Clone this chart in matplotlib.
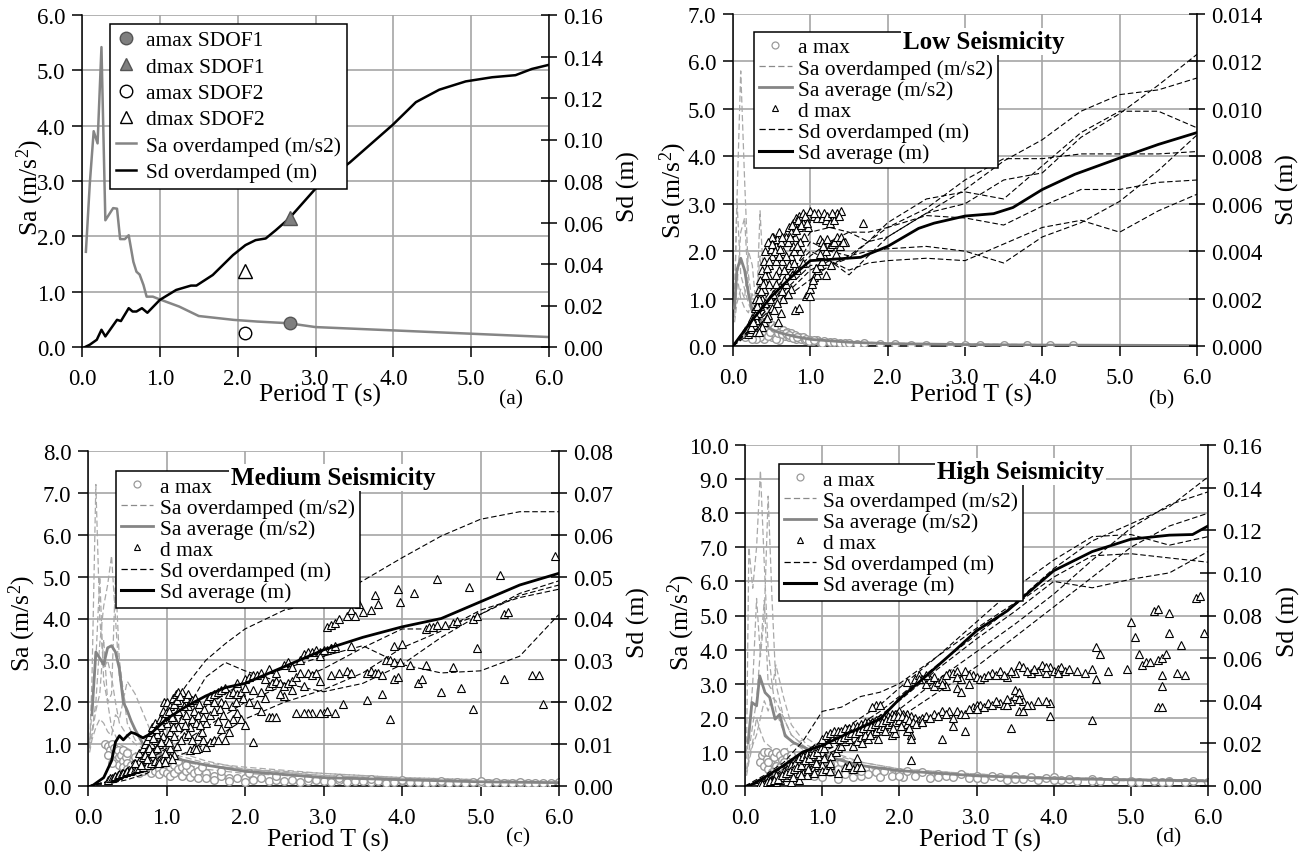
import numpy as np
import matplotlib
matplotlib.use("Agg")
import matplotlib.pyplot as plt
from matplotlib.lines import Line2D
from matplotlib.ticker import FormatStrFormatter

plt.rcParams["font.family"] = ["Liberation Serif", "DejaVu Serif"]
plt.rcParams["mathtext.fontset"] = "custom"
plt.rcParams["mathtext.rm"] = "Liberation Serif"
plt.rcParams["mathtext.it"] = "Liberation Serif:italic"

W, H = 1310, 854

# ---------------------------------------------------------------- panel (a)
T_sa_a = [0.05, 0.1, 0.15, 0.2, 0.25, 0.3, 0.35, 0.4, 0.45, 0.49, 0.55, 0.6, 0.66, 0.7,
          0.74, 0.79, 0.83, 0.91, 1.0, 1.25, 1.5, 1.95, 2.25, 2.65, 3.0, 4.0, 5.0, 6.0]
sa_od_a = [1.72, 2.95, 3.9, 3.68, 5.42, 2.29, 2.4, 2.51, 2.5, 1.95, 1.95, 2.02, 1.54, 1.36,
           1.31, 1.12, 0.91, 0.91, 0.86, 0.73, 0.56, 0.49, 0.46, 0.43, 0.36, 0.3, 0.24, 0.18]
T_sd_a = [0.04, 0.1, 0.19, 0.25, 0.3, 0.36, 0.45, 0.5, 0.6, 0.65, 0.7, 0.77, 0.84, 1.0, 1.21,
          1.4, 1.47, 1.68, 1.94, 2.1, 2.23, 2.36, 2.49, 2.66, 3.0, 3.44, 3.99, 4.29, 4.59,
          4.93, 5.27, 5.57, 5.78, 6.0]
sd_od_a_mm = [0, 1.1, 3.5, 8.3, 5.1, 8.3, 13.1, 12.5, 18.7, 17.1, 17.1, 18.7, 16.5, 22.7, 27.5,
              29.6, 29.6, 34.7, 44.3, 49.1, 51.5, 52.3, 56.3, 61.9, 76.3, 88.9, 107, 118, 124,
              128, 130, 131, 134, 136]
amax_sdof1 = (2.67, 0.43)
dmax_sdof1 = (2.67, 0.062)
amax_sdof2 = (2.1, 0.25)
dmax_sdof2 = (2.1, 0.0365)

# ---------------------------------------------------------------- shared period grids
T_od = [0.0, 0.25, 0.5, 0.75, 1.0, 1.25, 1.5, 1.75, 2.0, 2.5, 3.0, 3.5, 4.0, 4.5, 5.0, 5.5, 6.0]
T_sa = [0.02, 0.05, 0.1, 0.15, 0.2, 0.25, 0.3, 0.35, 0.4, 0.5, 0.6, 0.8, 1.0, 1.5, 2.0,
        3.0, 4.0, 5.0, 6.0]

# ---------------------------------------------------------------- panel (b) low seismicity
sa_od_b = [
    [1.0, 3.0, 5.8, 3.5, 1.5, 0.9, 0.8, 0.7, 0.5, 0.4, 0.3, 0.2, 0.15, 0.08, 0.05, 0.03, 0.02, 0.015, 0.01],
    [0.8, 3.1, 1.5, 1.2, 0.9, 0.7, 0.6, 2.85, 1.2, 0.5, 0.35, 0.25, 0.18, 0.1, 0.06, 0.04, 0.03, 0.02, 0.015],
    [0.6, 1.2, 2.4, 2.7, 1.2, 0.6, 0.5, 0.45, 0.4, 0.3, 0.25, 0.18, 0.12, 0.07, 0.05, 0.03, 0.02, 0.015, 0.01],
    [0.5, 0.9, 1.2, 1.0, 2.0, 1.7, 0.8, 0.6, 0.5, 0.4, 0.3, 0.2, 0.13, 0.07, 0.04, 0.03, 0.02, 0.01, 0.01],
    [0.7, 1.5, 1.0, 0.8, 0.7, 1.1, 0.9, 1.9, 0.8, 0.35, 0.3, 0.2, 0.12, 0.07, 0.04, 0.03, 0.02, 0.01, 0.01],
]
sa_avg_b = [0.8, 1.6, 1.85, 1.6, 1.1, 0.75, 0.6, 0.55, 0.45, 0.35, 0.28, 0.2, 0.14, 0.08, 0.05,
            0.03, 0.02, 0.015, 0.01]
sd_od_b_mm = [
    [0, 1.0, 2.2, 3.2, 4.0, 3.6, 3.0, 3.8, 4.6, 5.6, 6.0, 7.0, 7.3, 8.8, 9.8, 11.0, 12.3],
    [0, 1.2, 2.4, 3.6, 4.8, 5.0, 4.8, 4.4, 4.6, 5.6, 6.6, 7.8, 8.7, 9.9, 10.6, 10.8, 11.3],
    [0, 0.8, 1.8, 3.0, 4.4, 4.0, 3.8, 4.4, 5.2, 6.2, 6.5, 6.2, 7.6, 9.0, 9.9, 9.9, 9.2],
    [0, 1.0, 2.0, 3.0, 3.8, 4.4, 4.8, 4.8, 5.0, 5.8, 7.0, 7.9, 7.9, 8.1, 8.1, 8.1, 8.2],
    [0, 0.6, 1.4, 2.2, 2.8, 3.4, 3.8, 4.0, 4.1, 4.2, 4.0, 3.5, 4.6, 5.2, 6.1, 7.4, 8.9],
    [0, 0.8, 1.6, 2.4, 3.2, 3.6, 3.2, 3.5, 3.6, 3.7, 3.6, 4.3, 5.0, 5.3, 4.8, 5.7, 6.4],
    [0, 0.8, 1.8, 2.6, 3.4, 3.4, 3.7, 4.4, 5.0, 5.5, 5.4, 5.1, 5.9, 6.6, 6.6, 6.9, 7.0],
]
T_sd_avg_b = [0, 0.25, 0.5, 0.75, 1.0, 1.3, 1.65, 2.0, 2.4, 2.6, 3.0, 3.37, 3.62, 4.0, 4.42,
              4.96, 5.5, 6.0]
sd_avg_b_mm = [0, 1.1, 2.1, 2.9, 3.6, 3.66, 3.74, 4.2, 4.96, 5.18, 5.48, 5.58, 5.84, 6.6,
               7.24, 7.88, 8.5, 9.0]
amax_b = [(0.15, 0.2), (0.18, 0.28), (0.2, 0.35), (0.22, 0.25), (0.25, 0.42), (0.27, 0.3),
          (0.3, 0.5), (0.32, 0.22), (0.35, 0.45), (0.37, 0.35), (0.4, 0.5), (0.42, 0.28),
          (0.45, 0.52), (0.47, 0.4), (0.5, 0.45), (0.52, 0.3), (0.55, 0.42), (0.57, 0.2),
          (0.6, 0.38), (0.62, 0.3), (0.65, 0.33), (0.67, 0.22), (0.7, 0.3), (0.72, 0.18),
          (0.75, 0.27), (0.77, 0.2), (0.8, 0.24), (0.82, 0.15), (0.85, 0.2), (0.88, 0.14),
          (0.9, 0.18), (0.93, 0.12), (0.95, 0.15), (1.0, 0.13), (1.03, 0.1), (1.08, 0.12),
          (1.12, 0.09), (1.18, 0.1), (1.25, 0.08), (1.3, 0.09), (1.38, 0.07), (1.45, 0.07),
          (1.5, 0.06), (1.6, 0.05), (1.7, 0.06), (1.9, 0.04), (2.1, 0.04), (2.3, 0.03),
          (2.5, 0.03), (2.8, 0.03), (3.0, 0.03), (3.2, 0.02), (3.5, 0.02), (3.8, 0.02),
          (4.1, 0.02), (4.4, 0.02), (0.4, 0.15), (0.5, 0.18), (0.6, 0.12), (0.35, 0.2),
          (0.45, 0.22), (0.55, 0.15), (0.3, 0.15), (0.25, 0.15), (0.38, 0.42), (0.43, 0.38),
          (0.48, 0.3), (0.53, 0.37), (0.58, 0.28), (0.63, 0.25), (0.68, 0.28), (0.73, 0.24),
          (0.78, 0.17), (0.83, 0.19), (0.98, 0.1), (1.05, 0.13), (1.15, 0.07)]
dmax_b_mm = [(0.2, 0.5), (0.22, 0.6), (0.25, 0.7), (0.27, 0.9), (0.3, 1.1), (0.3, 0.6),
             (0.32, 1.4), (0.35, 1.7), (0.35, 0.8), (0.37, 2.0), (0.4, 2.4), (0.4, 1.0),
             (0.42, 2.7), (0.45, 3.0), (0.45, 1.3), (0.47, 3.4), (0.48, 4.4), (0.5, 3.8),
             (0.5, 1.6), (0.52, 4.6), (0.52, 2.2), (0.55, 4.2), (0.55, 2.6), (0.57, 4.5),
             (0.58, 1.0), (0.6, 3.2), (0.6, 4.8), (0.62, 1.4), (0.63, 3.6), (0.65, 4.0),
             (0.65, 2.0), (0.67, 4.4), (0.68, 2.6), (0.7, 4.8), (0.7, 3.0), (0.72, 3.4),
             (0.73, 5.0), (0.75, 3.8), (0.75, 2.4), (0.77, 4.2), (0.78, 5.2), (0.8, 4.6),
             (0.8, 1.5), (0.82, 5.4), (0.83, 3.2), (0.85, 5.5), (0.85, 1.6), (0.87, 4.0),
             (0.9, 5.6), (0.9, 3.5), (0.92, 4.6), (0.95, 5.4), (0.97, 5.0), (0.5, 4.6),
             (0.45, 4.4), (0.4, 3.6), (0.35, 2.8), (0.3, 2.0), (0.25, 1.2), (0.55, 3.6),
             (0.42, 4.0), (0.38, 3.2), (0.33, 2.4), (0.28, 1.6), (0.62, 4.4), (0.68, 4.6),
             (0.75, 4.8), (0.85, 5.0), (0.9, 5.2),
             (0.23, 0.8), (0.26, 1.0), (0.29, 1.3), (0.31, 1.7), (0.34, 2.0), (0.36, 2.3),
             (0.39, 2.6), (0.41, 3.0), (0.44, 3.3), (0.46, 3.6), (0.49, 4.1), (0.51, 4.3),
             (0.54, 4.0), (0.56, 3.0), (0.59, 3.8), (0.61, 4.1), (0.64, 4.6), (0.66, 3.2),
             (0.69, 3.8), (0.71, 4.4), (0.74, 4.6), (0.76, 5.1), (0.79, 4.0), (0.81, 4.9),
             (0.84, 5.3), (0.86, 4.4), (0.88, 5.1), (0.93, 5.5), (0.96, 5.2), (0.48, 2.0),
             (0.53, 1.5), (0.57, 1.8), (0.63, 2.3), (0.66, 2.8), (0.71, 2.2), (0.76, 3.0),
             (0.79, 3.5), (0.83, 4.2), (0.44, 1.2), (0.38, 0.8), (0.33, 0.6), (0.47, 2.6),
             (0.42, 1.8),
             (0.95, 2.1), (0.97, 2.2), (1.0, 2.4), (1.02, 2.6), (1.05, 2.9), (1.08, 3.0),
             (1.1, 3.2), (1.12, 3.4), (1.15, 3.6), (1.18, 3.8), (1.2, 4.0), (1.25, 4.2),
             (1.28, 4.3), (1.3, 4.4), (1.35, 4.6), (1.4, 4.6), (1.45, 4.4), (1.12, 4.5),
             (1.15, 4.4), (1.2, 3.0), (1.0, 2.1), (1.03, 2.8), (1.07, 3.3), (1.13, 3.9),
             (1.17, 4.2), (1.22, 4.5), (1.27, 3.4), (1.33, 3.9), (1.38, 4.2), (1.42, 4.4),
             (1.0, 5.7), (1.05, 5.5), (1.08, 5.4), (1.1, 5.6), (1.15, 5.4), (1.2, 5.3),
             (1.25, 5.2), (1.3, 5.5), (1.35, 5.6), (1.4, 5.7), (1.3, 5.3), (1.68, 5.2),
             (1.05, 5.6), (1.18, 5.6), (1.22, 5.5), (1.28, 5.6), (1.37, 5.5)]

# ---------------------------------------------------------------- panel (c) medium seismicity
sa_od_c = [
    [0.9, 2.5, 7.2, 4.0, 2.8, 3.0, 2.6, 2.0, 1.5, 1.2, 1.0, 0.8, 0.7, 0.5, 0.4, 0.25, 0.18, 0.12, 0.1],
    [1.1, 1.3, 2.0, 3.4, 4.3, 4.8, 5.5, 4.0, 2.6, 1.8, 1.3, 1.0, 0.8, 0.55, 0.45, 0.3, 0.2, 0.15, 0.12],
    [1.0, 1.8, 3.0, 5.0, 2.5, 2.0, 2.2, 5.0, 3.0, 1.5, 1.1, 0.8, 0.6, 0.4, 0.3, 0.2, 0.15, 0.1, 0.08],
    [0.8, 1.1, 1.4, 1.6, 1.5, 1.3, 1.2, 1.7, 1.6, 2.5, 2.2, 1.3, 0.9, 0.6, 0.4, 0.25, 0.18, 0.12, 0.1],
    [0.9, 1.2, 1.8, 2.2, 3.5, 2.0, 1.4, 1.2, 1.0, 0.9, 0.8, 0.7, 0.6, 0.5, 0.4, 0.3, 0.2, 0.15, 0.1],
]
T_sa_avg_c = [0.05, 0.1, 0.15, 0.2, 0.25, 0.3, 0.35, 0.4, 0.45, 0.5, 0.55, 0.6, 0.7, 0.8, 1.0,
              1.5, 2.0, 3.0, 4.0, 5.0, 6.0]
sa_avg_c = [1.7, 3.2, 3.05, 2.9, 3.3, 3.35, 3.2, 2.8, 2.0, 1.8, 1.55, 1.35, 1.0, 0.85, 0.7,
            0.5, 0.35, 0.2, 0.15, 0.1, 0.08]
sd_od_c_mm = [
    [0, 1, 4, 10, 17, 24, 30, 34, 37.5, 42, 44, 49, 54.5, 59.7, 63.7, 65.5, 65.5],
    [0, 1, 3, 7, 12, 18, 26, 29.5, 27.5, 24.5, 22.5, 24.5, 29, 35.5, 41, 45.5, 48],
    [0, 1, 3, 6, 9, 14, 19, 22, 25, 28, 31, 33.5, 29, 27, 27.5, 31, 41],
    [0, 1, 2.5, 5, 8, 11, 14, 17, 20, 24, 28, 33, 37.5, 37.5, 41, 46, 49],
    [0, 0.5, 1.5, 3, 6, 8, 10, 13, 16, 20, 23, 27, 33, 37, 42, 45, 47],
]
T_sd_avg_c = [0.05, 0.2, 0.3, 0.35, 0.4, 0.45, 0.5, 0.55, 0.6, 0.7, 0.8, 1.0, 1.25, 1.5, 1.75,
              2.0, 2.5, 3.0, 3.5, 4.0, 4.5, 5.0, 5.5, 6.0]
sd_avg_c_mm = [0, 2, 6, 10.5, 12, 11, 12, 12.8, 12.5, 11.5, 12.5, 16, 19, 21.5, 23.5, 24.5,
               28.5, 32.5, 35.5, 38, 40, 44, 48, 50.8]
amax_c = [(0.22, 1.0), (0.25, 0.95), (0.28, 0.85), (0.3, 1.0), (0.3, 0.7), (0.33, 0.9),
          (0.35, 0.8), (0.35, 0.6), (0.38, 0.85), (0.4, 0.7), (0.4, 0.5), (0.42, 0.75),
          (0.45, 0.6), (0.45, 0.45), (0.48, 0.7), (0.5, 0.55), (0.5, 0.4), (0.55, 0.5),
          (0.55, 0.35), (0.6, 0.55), (0.6, 0.4), (0.65, 0.45), (0.65, 0.3), (0.7, 0.5),
          (0.7, 0.35), (0.75, 0.4), (0.8, 0.45), (0.8, 0.3), (0.85, 0.35), (0.9, 0.4),
          (0.9, 0.28), (0.95, 0.35), (1.0, 0.55), (1.0, 0.3), (1.05, 0.45), (1.05, 0.25),
          (1.1, 0.5), (1.1, 0.3), (1.15, 0.4), (1.2, 0.45), (1.2, 0.25), (1.25, 0.35),
          (1.3, 0.4), (1.3, 0.22), (1.35, 0.3), (1.4, 0.35), (1.4, 0.2), (1.5, 0.3),
          (1.5, 0.18), (1.6, 0.25), (1.6, 0.15), (1.7, 0.25), (1.8, 0.2), (1.8, 0.12),
          (1.9, 0.2), (2.0, 0.18), (2.0, 0.1), (2.1, 0.15), (2.2, 0.18), (2.3, 0.12),
          (2.4, 0.15), (2.5, 0.12), (2.6, 0.14), (2.7, 0.1), (2.8, 0.12), (2.9, 0.15),
          (3.0, 0.12), (3.1, 0.1), (3.2, 0.14), (3.3, 0.1), (3.4, 0.12), (3.5, 0.11),
          (3.6, 0.1), (3.7, 0.12), (3.8, 0.08), (3.9, 0.1), (4.0, 0.11), (4.1, 0.09),
          (4.2, 0.1), (4.3, 0.08), (4.4, 0.1), (4.5, 0.09), (4.6, 0.08), (4.7, 0.1),
          (4.8, 0.08), (4.9, 0.09), (5.0, 0.07), (5.1, 0.08), (5.2, 0.09), (5.3, 0.07),
          (5.4, 0.08), (5.5, 0.07), (5.6, 0.08), (5.7, 0.06), (5.8, 0.07), (5.9, 0.07),
          (0.25, 0.75), (0.3, 0.55), (0.45, 0.85), (0.5, 0.8), (0.6, 0.7), (0.75, 0.6),
          (1.0, 0.7), (0.85, 0.55), (1.15, 0.6), (1.25, 0.5), (1.45, 0.45), (1.7, 0.35),
          (2.05, 0.3), (2.4, 0.25), (2.8, 0.2), (3.2, 0.2), (3.6, 0.16), (4.0, 0.15),
          (4.5, 0.13), (5.0, 0.12), (5.5, 0.1), (6.0, 0.09)]
dmax_c_mm = [(0.25, 1.5), (0.28, 1.8), (0.3, 2), (0.33, 2.2), (0.35, 2.5), (0.38, 2.6),
             (0.4, 2.8), (0.43, 3), (0.45, 3), (0.48, 3.3), (0.5, 3.5), (0.53, 3.5),
             (0.55, 3.8), (0.6, 4), (0.63, 4.2), (0.65, 4.3), (0.7, 4.5), (0.75, 5),
             (0.8, 5.5), (0.85, 6), (0.9, 6.2), (0.95, 6.5), (1.0, 7), (1.05, 7), (1.02, 6.5),
             (0.65, 8), (0.7, 9), (0.72, 10), (0.75, 11), (0.75, 8.5), (0.78, 12), (0.8, 13),
             (0.8, 10), (0.82, 14), (0.85, 15), (0.85, 11), (0.88, 12.5), (0.9, 14), (0.9, 10),
             (0.92, 16), (0.95, 18), (0.95, 12), (0.97, 20), (1.0, 20), (1.0, 15), (1.0, 11),
             (1.02, 17), (1.05, 19), (1.05, 13), (1.08, 21), (1.1, 16), (1.1, 12), (1.12, 22),
             (1.15, 22.5), (1.15, 18), (1.15, 14), (1.18, 20), (1.2, 22.5), (1.2, 16),
             (1.22, 12), (1.25, 21), (1.25, 17), (1.28, 19), (1.3, 14), (1.3, 20), (1.32, 16),
             (1.35, 18), (1.38, 15), (1.4, 17), (1.4, 12), (1.45, 13), (1.5, 15), (1.3, 8.5),
             (1.35, 9), (1.4, 9), (1.5, 9.3), (1.38, 8.8), (0.65, 6), (0.7, 7), (0.6, 5.5),
             (0.98, 8), (1.05, 9), (1.1, 7.5),
             (0.72, 7.5), (0.78, 9), (0.83, 11.5), (0.87, 13.5), (0.93, 14.5), (0.96, 16),
             (0.99, 17.5), (1.03, 18), (1.07, 16.5), (1.09, 19.5), (1.13, 20.5), (1.17, 21.5),
             (1.22, 19), (1.27, 22), (1.33, 20.5), (1.36, 21), (1.42, 19.5), (1.46, 16.5),
             (1.48, 18.5), (1.52, 20.5), (0.82, 8), (0.88, 9), (0.93, 10.5), (1.03, 10.5),
             (1.08, 14), (1.13, 9.5), (1.18, 11), (1.23, 14.5), (1.28, 12.5), (1.33, 11),
             (1.43, 14.5), (1.47, 11), (0.9, 5.5), (0.98, 5.8), (1.07, 6.5), (0.68, 5),
             (0.75, 6.5),
             (1.55, 21.5), (1.6, 22), (1.65, 22.5), (1.7, 23), (1.75, 23.5), (1.9, 24.5),
             (2.0, 25.5), (2.05, 26), (2.1, 26.5), (2.15, 26.5), (2.2, 27), (2.3, 28),
             (2.5, 29), (2.55, 29.5), (2.75, 31.5), (2.8, 32), (2.85, 32), (2.9, 32.5),
             (2.95, 32), (3.05, 32.5), (3.1, 33), (3.15, 33),
             (1.8, 22), (1.85, 22.5), (1.9, 22), (1.95, 22.5), (2.1, 23), (2.2, 22.5),
             (2.3, 24), (2.35, 24.5), (2.4, 25), (2.45, 24.5), (2.5, 24), (2.55, 24.5),
             (2.6, 25), (2.65, 26), (2.7, 27), (2.8, 27), (2.85, 26.5), (2.9, 27),
             (1.55, 17), (1.6, 18), (1.65, 15.5), (1.7, 13.5), (1.75, 11), (1.8, 13),
             (1.85, 16), (1.9, 17.5), (1.95, 16), (2.0, 14.5), (2.1, 10.5), (2.3, 16.5),
             (2.35, 16.5), (2.4, 16.5), (2.65, 17.5), (2.5, 21.5), (1.55, 10.5), (1.6, 11),
             (1.65, 11), (1.7, 20), (1.75, 19.5),
             (1.6, 20), (1.68, 18.5), (1.72, 17), (1.78, 15), (1.83, 19), (1.88, 20),
             (1.98, 21), (2.05, 20), (2.15, 19.5), (2.2, 18), (2.25, 21), (2.45, 22),
             (2.6, 23), (2.75, 24), (2.95, 25), (2.0, 23.5), (2.25, 25.5), (2.4, 27),
             (2.6, 28.5), (2.7, 30), (2.95, 31),
             (3.0, 17.5), (2.95, 17.5), (2.85, 17.5), (2.8, 17.5), (2.75, 17.5), (3.05, 18),
             (3.15, 17.5), (3.25, 19.5), (3.05, 38), (3.1, 38.5), (3.15, 39), (3.2, 40),
             (3.3, 40.5), (3.35, 42), (3.4, 40.5), (3.45, 43.5), (3.5, 41.5), (3.6, 42),
             (3.65, 45.5), (3.7, 43.5), (3.0, 32.5), (3.1, 33), (3.15, 33.5), (3.35, 33.5),
             (3.1, 26.5), (3.2, 27), (3.3, 27.5), (3.35, 27), (3.55, 27), (3.6, 27.5),
             (3.65, 27), (3.7, 27), (3.75, 26.5), (3.8, 30), (3.85, 30), (3.9, 29.5),
             (3.98, 29.5), (3.9, 25.5), (3.95, 26), (3.75, 22), (3.55, 20.5), (3.85, 16),
             (3.9, 33.5), (3.95, 47), (3.98, 44), (4.0, 34), (4.1, 29), (4.15, 46),
             (4.2, 24.5), (4.25, 25.5), (4.3, 29), (4.3, 37.5), (4.35, 38), (4.4, 38),
             (4.45, 38.5), (4.55, 38.5), (4.65, 39), (4.7, 39.5), (4.45, 49.5), (4.5, 22.5),
             (4.65, 28.5), (4.75, 23.5), (4.85, 47.5), (4.9, 40), (4.95, 40.5), (4.95, 33),
             (4.9, 18.5), (5.25, 50.5), (5.3, 41), (5.35, 41.5), (5.3, 25.5), (5.65, 26.5),
             (5.75, 26.5), (5.8, 19.5), (5.95, 55)]

# ---------------------------------------------------------------- panel (d) high seismicity
sa_od_d = [
    [1.0, 7.0, 5.8, 7.0, 9.25, 6.5, 4.0, 3.0, 2.2, 1.6, 1.3, 1.0, 0.8, 0.6, 0.45, 0.3, 0.22, 0.18, 0.15],
    [0.8, 1.5, 3.0, 5.5, 3.8, 5.0, 8.5, 5.5, 3.0, 2.0, 1.5, 1.1, 0.9, 0.6, 0.45, 0.3, 0.2, 0.15, 0.12],
    [0.5, 1.0, 1.8, 2.5, 4.0, 5.45, 3.0, 2.8, 3.55, 2.6, 1.8, 1.2, 1.0, 0.7, 0.5, 0.35, 0.25, 0.2, 0.18],
    [0.3, 0.7, 1.2, 1.5, 2.0, 2.5, 2.2, 2.6, 2.5, 2.0, 1.5, 1.1, 0.8, 0.55, 0.4, 0.3, 0.22, 0.18, 0.15],
    [0.4, 0.8, 1.3, 2.0, 1.6, 1.3, 1.2, 1.1, 1.0, 1.0, 1.2, 1.4, 1.1, 0.7, 0.5, 0.35, 0.25, 0.2, 0.15],
]
T_sa_avg_d = [0.04, 0.09, 0.12, 0.15, 0.19, 0.26, 0.32, 0.39, 0.45, 0.52, 0.63, 0.75, 0.9, 1.0,
              1.5, 2.0, 3.0, 4.0, 5.0, 6.0]
sa_avg_d = [1.27, 2.45, 2.4, 2.35, 3.23, 2.74, 2.6, 1.96, 2.1, 1.47, 1.27, 1.15, 1.0, 0.9,
            0.6, 0.45, 0.3, 0.22, 0.18, 0.15]
sd_od_d_mm = [
    [0, 5, 11, 21, 35, 37, 42, 44, 48, 61, 74, 86, 102, 115, 123, 131, 145],
    [0, 3, 10, 16, 21, 26, 32, 38, 46, 61, 77, 93, 106, 117, 118, 113, 117],
    [0, 3, 9, 15, 20, 24, 29, 35, 42, 57, 71, 85, 98, 108, 109, 107, 105],
    [0, 2, 8, 14, 19, 23, 28, 33, 40, 55, 69, 82, 96, 93, 97, 100, 110],
    [0, 2, 7, 12, 16, 20, 25, 30, 36, 50, 63, 76, 90, 106, 121, 132, 138],
    [0, 2, 6, 10, 14, 18, 22, 27, 32, 44, 56, 70, 84, 98, 112, 122, 128],
]
T_sd_avg_d = [0.05, 0.25, 0.5, 0.75, 1.0, 1.35, 1.75, 2.0, 2.35, 2.7, 3.0, 3.4, 4.0, 4.5, 5.0,
              5.5, 5.8, 6.0]
sd_avg_d_mm = [0, 4, 9.6, 16, 19, 25, 31.4, 40.8, 51.7, 62.9, 72.8, 82.2, 101, 110, 115.8,
               117.7, 118, 122]
amax_d = [(0.2, 0.7), (0.22, 0.9), (0.25, 1.0), (0.25, 0.6), (0.28, 0.8), (0.3, 1.0),
          (0.3, 0.5), (0.33, 0.7), (0.35, 0.95), (0.35, 0.4), (0.38, 0.85), (0.4, 1.0),
          (0.4, 0.6), (0.42, 0.3), (0.45, 0.9), (0.45, 0.55), (0.48, 0.75), (0.5, 1.0),
          (0.5, 0.4), (0.55, 0.85), (0.55, 0.6), (0.6, 0.9), (0.6, 0.3), (0.65, 0.7),
          (0.65, 0.5), (0.7, 0.8), (0.7, 0.35), (0.75, 0.6), (0.75, 0.9), (0.8, 0.5),
          (0.8, 0.75), (0.85, 0.4), (0.85, 0.65), (0.9, 0.55), (0.9, 0.3), (0.95, 0.7),
          (0.95, 0.45), (1.0, 0.25), (1.0, 0.6), (1.05, 0.8), (1.1, 0.4), (1.1, 0.65),
          (1.2, 0.2), (1.2, 0.5), (1.25, 0.7), (1.3, 0.35), (1.35, 0.55), (1.4, 0.25),
          (1.45, 0.45), (1.5, 0.3), (1.55, 0.5), (1.6, 0.35), (1.7, 0.4), (1.75, 0.25),
          (1.8, 0.45), (1.9, 0.3), (2.0, 0.4), (2.05, 0.25), (2.1, 0.45), (2.2, 0.3),
          (2.3, 0.4), (2.4, 0.22), (2.5, 0.35), (2.6, 0.3), (2.7, 0.25), (2.8, 0.35),
          (2.9, 0.22), (3.0, 0.3), (3.1, 0.2), (3.2, 0.3), (3.3, 0.25), (3.4, 0.18),
          (3.5, 0.28), (3.6, 0.2), (3.7, 0.25), (3.8, 0.18), (3.9, 0.22), (4.0, 0.25),
          (4.1, 0.18), (4.2, 0.2), (4.3, 0.15), (4.5, 0.2), (4.6, 0.15), (4.8, 0.18),
          (5.0, 0.15), (5.1, 0.12), (5.3, 0.16), (5.4, 0.12), (5.5, 0.15), (5.7, 0.12),
          (5.8, 0.14), (6.0, 0.12), (0.3, 0.7), (0.5, 0.7), (0.7, 0.6), (1.0, 0.45),
          (1.5, 0.45), (2.0, 0.3), (2.5, 0.25), (3.0, 0.22), (3.5, 0.2), (4.0, 0.18),
          (4.5, 0.15), (5.0, 0.12), (5.5, 0.12)]
dmax_d_mm = [(0.2, 1), (0.25, 1), (0.3, 2), (0.35, 2), (0.4, 2), (0.45, 3), (0.5, 4), (0.55, 4),
             (0.6, 5), (0.65, 6), (0.7, 6), (0.75, 6), (0.8, 7), (0.85, 8), (0.9, 9), (0.95, 10),
             (1.0, 10), (0.3, 3), (0.4, 5), (0.5, 7), (0.55, 8), (0.6, 10), (0.65, 11),
             (0.7, 13), (0.75, 14), (0.8, 15), (0.85, 16), (0.9, 18), (0.95, 19), (1.0, 21),
             (0.8, 10), (0.85, 12), (0.9, 14), (0.95, 14), (1.0, 16), (0.6, 2), (0.7, 3),
             (0.8, 5), (0.9, 6), (1.0, 7), (1.05, 8), (1.1, 10), (1.1, 7),
             (0.22, 1), (0.28, 2), (0.33, 2.5), (0.38, 3), (0.43, 3.5), (0.48, 5), (0.53, 6),
             (0.58, 7), (0.63, 8), (0.68, 9), (0.73, 10), (0.78, 12), (0.83, 13), (0.88, 15),
             (0.93, 16), (0.98, 18), (1.03, 18), (1.08, 20), (1.13, 22), (0.62, 4), (0.72, 5),
             (0.82, 8), (0.92, 11), (1.02, 13), (1.12, 14), (1.18, 16),
             (1.0, 22), (1.05, 24), (1.1, 25), (1.15, 26), (1.2, 26), (1.25, 26), (1.3, 27),
             (1.35, 27), (1.4, 28), (1.45, 28), (1.5, 29), (1.55, 30), (1.6, 30), (1.65, 30),
             (1.7, 31), (1.75, 32), (1.8, 32), (1.85, 33), (1.9, 34), (1.95, 34), (2.0, 35),
             (2.05, 34), (2.1, 34), (2.15, 33), (2.2, 32), (2.25, 31), (2.3, 30), (1.2, 18),
             (1.25, 19), (1.3, 21), (1.35, 22), (1.4, 19), (1.45, 21), (1.5, 23), (1.55, 24),
             (1.6, 22), (1.65, 25), (1.7, 26), (1.75, 27), (1.8, 28), (1.85, 29), (1.9, 30),
             (1.95, 30), (2.0, 31), (2.05, 30), (2.1, 29), (2.15, 24), (2.15, 22), (2.1, 26),
             (1.9, 24), (1.95, 25), (1.3, 9), (1.35, 10), (1.4, 8), (1.45, 9), (1.5, 9),
             (1.2, 6), (1.1, 11), (1.45, 13), (1.7, 38), (1.75, 38), (1.65, 37), (2.15, 12),
             (1.23, 22), (1.28, 23), (1.33, 24), (1.38, 25), (1.43, 25), (1.48, 26), (1.53, 27),
             (1.58, 28), (1.63, 28), (1.68, 29), (1.73, 30), (1.78, 30), (1.83, 31), (1.88, 32),
             (1.93, 33), (1.98, 33), (2.03, 33), (2.08, 32), (2.13, 31), (2.18, 30), (1.52, 20),
             (1.62, 24), (1.72, 22), (1.82, 26), (1.92, 27), (2.02, 28), (2.12, 27), (2.22, 29),
             (2.3, 32), (2.35, 33), (2.45, 34), (2.55, 35), (2.65, 35),
             (2.1, 49), (2.2, 50), (2.25, 52), (2.3, 50), (2.35, 48), (2.4, 50), (2.45, 47),
             (2.5, 49), (2.55, 50), (2.6, 47), (2.65, 53), (2.7, 53), (2.75, 54), (2.8, 50),
             (2.85, 54), (2.9, 48), (2.95, 52), (3.0, 51), (3.05, 50), (3.1, 51), (3.2, 53),
             (3.25, 52), (3.3, 54), (3.4, 51), (3.5, 53), (3.55, 57), (3.6, 56), (3.7, 53),
             (3.8, 54), (3.85, 57), (3.9, 53), (3.95, 56), (4.0, 54), (4.05, 55), (4.1, 56),
             (4.15, 54), (2.25, 50), (2.35, 52), (2.45, 51), (2.55, 48), (2.6, 52), (2.75, 51),
             (2.9, 52), (3.15, 52), (3.35, 52), (3.45, 54), (3.65, 54), (3.75, 55), (3.9, 56),
             (4.05, 53), (4.2, 55),
             (2.3, 30), (2.4, 32), (2.5, 33), (2.6, 34), (2.7, 32), (2.75, 35), (2.8, 34),
             (2.85, 34), (2.95, 37), (3.0, 38), (3.05, 38), (3.1, 37), (3.15, 39), (3.2, 38),
             (3.3, 39), (3.35, 38), (3.45, 40), (3.5, 42), (3.6, 40), (2.75, 46), (2.8, 44),
             (2.85, 26), (2.55, 22), (2.7, 28), (3.45, 27), (3.55, 35), (3.4, 38), (3.6, 35),
             (3.95, 33), (3.7, 38), (3.5, 45), (3.55, 44), (3.95, 39), (2.9, 36), (3.0, 36),
             (3.25, 40), (3.4, 41), (3.55, 41), (3.65, 38), (3.8, 40), (3.9, 40),
             (4.3, 54), (4.4, 53), (4.5, 55), (4.55, 65), (4.6, 62), (4.55, 50), (4.5, 31),
             (4.7, 54), (4.95, 55), (5.0, 77), (5.05, 70), (5.1, 62), (5.15, 57), (5.2, 58),
             (5.25, 58), (5.3, 82), (5.35, 83), (5.35, 59), (5.4, 60), (5.5, 81), (5.5, 72),
             (5.45, 62), (5.4, 52), (5.4, 47), (5.35, 37), (5.4, 37), (5.6, 53), (5.65, 66),
             (5.7, 52), (5.85, 88), (5.9, 89), (5.95, 72)]

# ---------------------------------------------------------------- styling
GRID = "#a6a6a6"
SA_OD = "#a8a8a8"
SA_AVG = "#858585"
CIRC = "#9a9a9a"
DASH = (0, (5, 2.5))
TICK_FS = 16.5
LABEL_FS = 18.5

fig = plt.figure(figsize=(W / 100, H / 100), dpi=100)


def rect(x0, x1, y0, y1):
    return [x0 / W, 1 - y1 / H, (x1 - x0) / W, (y1 - y0) / H]


def fpos(x, y):
    return x / W, 1 - y / H


def make_axes(r, sa_top, sd_top, sd_step, sd_fmt):
    ax = fig.add_axes(r)
    ax.set_xlim(0, 6)
    ax.set_ylim(0, sa_top)
    ax.set_xticks(np.arange(0, 6.01, 1.0))
    ax.set_yticks(np.arange(0, sa_top + 0.01, 1.0))
    ax.xaxis.set_major_formatter(FormatStrFormatter("%.1f"))
    ax.yaxis.set_major_formatter(FormatStrFormatter("%.1f"))
    ax.grid(True, color=GRID, lw=1.2)
    ax.set_axisbelow(True)
    ax.spines["top"].set_visible(False)
    ax.spines["right"].set_visible(False)
    ax.spines["left"].set_linewidth(1.1)
    ax.spines["bottom"].set_linewidth(1.1)
    ax.tick_params(axis="both", direction="out", length=7, width=1.1, labelsize=TICK_FS)
    ax.tick_params(axis="x", pad=8)
    ax.tick_params(axis="y", pad=5)
    ax2 = ax.twinx()
    ax2.set_ylim(0, sd_top)
    ax2.set_yticks(np.arange(0, sd_top + sd_step / 2, sd_step))
    ax2.yaxis.set_major_formatter(FormatStrFormatter(sd_fmt))
    ax2.spines["top"].set_visible(False)
    ax2.spines["left"].set_visible(False)
    ax2.spines["bottom"].set_visible(False)
    ax2.spines["right"].set_linewidth(1.1)
    ax2.tick_params(axis="y", direction="inout", length=12, width=1.1, labelsize=TICK_FS, pad=4)
    return ax, ax2


def labels(sa_xy, sd_xy, per_xy, tag_xy, tag):
    fig.text(*fpos(*sa_xy), "Sa (m/s$^2$)", rotation=90, ha="center", va="center", fontsize=LABEL_FS)
    fig.text(*fpos(*sd_xy), "Sd (m)", rotation=90, ha="center", va="center", fontsize=LABEL_FS)
    fig.text(*fpos(*per_xy), "Period T (s)", ha="center", va="center", fontsize=LABEL_FS)
    fig.text(*fpos(*tag_xy), tag, ha="center", va="center", fontsize=15.5)


def mm(values):
    return np.asarray(values, dtype=float) / 1000.0


# ---------------------------------------------------------------- (a)
ax, ax2 = make_axes(rect(82, 549, 16, 348), 6, 0.16, 0.02, "%.2f")
ax.plot(T_sa_a, sa_od_a, color=SA_AVG, lw=1.8, zorder=3)
ax2.plot(T_sd_a, mm(sd_od_a_mm), color="black", lw=1.8, zorder=3)
ax.plot(*amax_sdof1, ls="none", marker="o", ms=9, mfc="#7f7f7f", mec="#555555", mew=1, zorder=4)
ax2.plot(*dmax_sdof1, ls="none", marker="^", ms=10, mfc="#7f7f7f", mec="#555555", mew=1, zorder=4)
ax.plot(*amax_sdof2, ls="none", marker="o", ms=9, mfc="white", mec="black", mew=1, zorder=4)
ax2.plot(*dmax_sdof2, ls="none", marker="^", ms=10, mfc="white", mec="black", mew=1, zorder=4)
handles_a = [
    Line2D([], [], ls="none", marker="o", ms=9, mfc="#7f7f7f", mec="#555555"),
    Line2D([], [], ls="none", marker="^", ms=9, mfc="#7f7f7f", mec="#555555"),
    Line2D([], [], ls="none", marker="o", ms=9, mfc="white", mec="black"),
    Line2D([], [], ls="none", marker="^", ms=9, mfc="white", mec="black"),
    Line2D([], [], color=SA_AVG, lw=1.8),
    Line2D([], [], color="black", lw=1.8),
]
names_a = ["amax SDOF1", "dmax SDOF1", "amax SDOF2", "dmax SDOF2",
           "Sa overdamped (m/s2)", "Sd overdamped (m)"]
leg = ax2.legend(handles_a, names_a, loc="upper left", bbox_to_anchor=(0.06, 0.973),
                 borderaxespad=0, fontsize=15.5, labelspacing=0.29, handlelength=0.9,
                 handletextpad=0.45, borderpad=0.3, fancybox=False, framealpha=1,
                 edgecolor="black")
leg.get_frame().set_linewidth(1.1)
leg.set_zorder(20)
labels((30, 187), (628, 187), (320, 395), (511, 400), "(a)")

# ---------------------------------------------------------------- (b), (c), (d)
panel_specs = [
    dict(r=rect(733, 1197, 15, 347), sa_top=7, sd_top=0.014, sd_step=0.002, fmt="%.3f",
         sa_od=sa_od_b, T_sa_avg=T_sa, sa_avg=sa_avg_b, sd_od=sd_od_b_mm,
         T_sd_avg=T_sd_avg_b, sd_avg=sd_avg_b_mm, amax=amax_b, dmax=dmax_b_mm,
         title="Low Seismicity", leg_xy=(0.045, 0.946), title_xy=(0.541, 0.916),
         lab=((673, 190), (1287, 190), (971, 395), (1162, 400), "(b)")),
    dict(r=rect(88, 559, 452, 787), sa_top=8, sd_top=0.08, sd_step=0.01, fmt="%.2f",
         sa_od=sa_od_c, T_sa_avg=T_sa_avg_c, sa_avg=sa_avg_c, sd_od=sd_od_c_mm,
         T_sd_avg=T_sd_avg_c, sd_avg=sd_avg_c_mm, amax=amax_c, dmax=dmax_c_mm,
         title="Medium Seismicity", leg_xy=(0.059, 0.940), title_xy=(0.520, 0.922),
         lab=((22, 623), (638, 623), (328, 840), (518, 838), "(c)")),
    dict(r=rect(745, 1208, 446, 787), sa_top=10, sd_top=0.16, sd_step=0.02, fmt="%.2f",
         sa_od=sa_od_d, T_sa_avg=T_sa_avg_d, sa_avg=sa_avg_d, sd_od=sd_od_d_mm,
         T_sd_avg=T_sd_avg_d, sd_avg=sd_avg_d_mm, amax=amax_d, dmax=dmax_d_mm,
         title="High Seismicity", leg_xy=(0.073, 0.944), title_xy=(0.596, 0.921),
         lab=((681, 622), (1288, 622), (980, 840), (1169, 838), "(d)")),
]

legend_names = ["a max", "Sa overdamped (m/s2)", "Sa average (m/s2)", "d max",
                "Sd overdamped (m)", "Sd average (m)"]

for p in panel_specs:
    ax, ax2 = make_axes(p["r"], p["sa_top"], p["sd_top"], p["sd_step"], p["fmt"])
    for line in p["sa_od"]:
        ax.plot(T_sa, line, color=SA_OD, lw=0.9, ls=DASH, zorder=2)
    am = np.array(p["amax"]).T
    ax.plot(am[0], am[1], ls="none", marker="o", ms=5.5, mfc="white", mec=CIRC, mew=1.0, zorder=3)
    ax.plot(p["T_sa_avg"], p["sa_avg"], color=SA_AVG, lw=2.0, zorder=4)
    for line in p["sd_od"]:
        ax2.plot(T_od, mm(line), color="black", lw=0.8, ls=DASH, zorder=2)
    dm = np.array(p["dmax"]).T
    ax2.plot(dm[0], mm(dm[1]), ls="none", marker="^", ms=6, mfc="white", mec="black",
             mew=0.8, zorder=3)
    ax2.plot(p["T_sd_avg"], mm(p["sd_avg"]), color="black", lw=2.0, zorder=4)

    handles = [
        Line2D([], [], ls="none", marker="o", ms=5, mfc="white", mec=CIRC, mew=0.9),
        Line2D([], [], color="#8a8a8a", lw=0.9, ls=DASH),
        Line2D([], [], color=SA_AVG, lw=2.0),
        Line2D([], [], ls="none", marker="^", ms=5, mfc="white", mec="black", mew=0.8),
        Line2D([], [], color="black", lw=0.9, ls=DASH),
        Line2D([], [], color="black", lw=2.2),
    ]
    leg = ax2.legend(handles, legend_names, loc="upper left", bbox_to_anchor=p["leg_xy"],
                     borderaxespad=0, fontsize=15.5, labelspacing=0.05, handlelength=1.5,
                     handletextpad=0.3, borderpad=0.25, fancybox=False, framealpha=1,
                     edgecolor="black")
    leg.get_frame().set_linewidth(1.1)
    leg.set_zorder(20)
    ax2.text(*p["title_xy"], p["title"], transform=ax2.transAxes, ha="center", va="center",
             fontsize=18, fontweight="bold", zorder=30,
             bbox=dict(facecolor="white", edgecolor="none", pad=1.5))
    labels(*p["lab"])

fig.savefig("out.png", dpi=100)
